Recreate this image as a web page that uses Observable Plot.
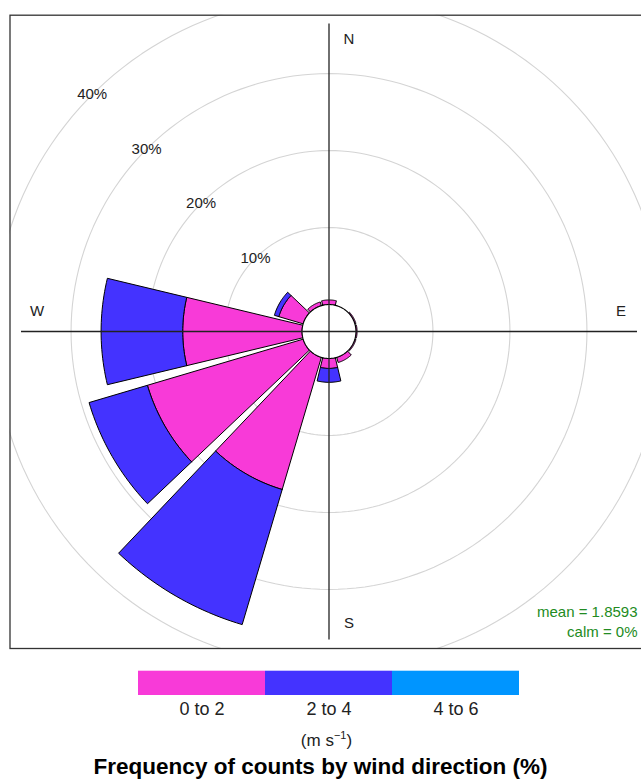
<!DOCTYPE html>
<html>
<head>
<meta charset="utf-8">
<script src="https://cdn.jsdelivr.net/npm/d3@7"></script>
<script src="https://cdn.jsdelivr.net/npm/@observablehq/plot@0.6"></script>
<style>
  html, body { margin: 0; padding: 0; background: #fff; overflow: hidden; width: 641px; }
  body { font-family: "Liberation Sans", Arial, Helvetica, sans-serif; }
  #chart svg, #legend svg { max-width: none !important; display: block; }
  #units { width: 641px; text-align: center; font-size: 17px; line-height: 20px; margin-top: 3px; position: relative; left: 6px; color: #222; }
  #units sup { font-size: 11px; }
  #title { width: 641px; text-align: center; font-size: 22.5px; font-weight: bold; line-height: 26px; margin-top: 3px; color: #000; }
</style>
</head>
<body>
<div id="chart"></div>
<div id="legend"></div>
<div id="units">(m s<sup>−1</sup>)</div>
<div id="title">Frequency of counts by wind direction (%)</div>
<script>
// ---- data ----
const directions = [0, 30, 60, 90, 120, 150, 180, 210, 240, 270, 300, 330];
const speedBins = ["0 to 2", "2 to 4", "4 to 6"];
const freq0to2 = [0.6, 0, 0.15, 0.15, 0.15, 0.7, 1.3, 17.9, 21.1, 15.5, 3.3, 0.5];
const freq2to4 = [0, 0, 0, 0, 0, 0, 1.8, 18.3, 7.9, 10.6, 0.6, 0];
const freq4to6 = [0, 0, 0, 0, 0, 0, 0, 0, 0, 0, 0, 0];
const binColors = ["#F83AD8", "#4433FF", "#0095FF"];
const rings = [10, 20, 30, 40];
const ringLabels = ["10%", "20%", "30%", "40%"];
const compassLabels = ["N", "E", "S", "W"];
const compassAngles = [0, 90, 180, 270];
const statLines = ["mean = 1.8593", "calm = 0%"];

// ---- geometry helpers ----
const freqs = [freq0to2, freq2to4, freq4to6];
const off = 3.5;        // calm circle radius in % units
const half = 13.5;      // half width of each sector (degrees)
const axisMax = 40;
const rad = d => d * Math.PI / 180;
const pt = (r, a) => ({x: r * Math.sin(rad(a)), y: r * Math.cos(rad(a))});

const sectors = [];
directions.forEach((dir, i) => {
  let cum = 0;
  speedBins.forEach((bin, j) => {
    const v = freqs[j][i];
    if (!(v > 0)) return;
    const r0 = off + cum, r1 = off + cum + v;
    cum += v;
    const id = dir + "|" + bin;
    const pts = [];
    for (let k = 0; k <= 24; k++) { const a = dir - half + 2 * half * k / 24; pts.push({...pt(r0, a), id, bin}); }
    for (let k = 24; k >= 0; k--) { const a = dir - half + 2 * half * k / 24; pts.push({...pt(r1, a), id, bin}); }
    pts.push({...pts[0]});
    sectors.push(...pts);
  });
});

const ringPts = [];
rings.forEach(p => {
  for (let a = 0; a <= 360; a += 2) ringPts.push({...pt(off + p, a), ring: p});
});
const calmPts = [];
for (let a = 0; a <= 360; a += 2) calmPts.push(pt(off, a));

const ringText = rings.map((p, i) => ({...pt(off + p, 315), label: ringLabels[i]}));
const compassText = compassAngles.map((a, i) => {
  const main = pt(axisMax * 0.948, a);
  const perp = pt(axisMax * 0.065, a + 90);
  const side = (a === 0 || a === 180) ? {x: Math.abs(perp.x), y: 0} : {x: 0, y: Math.abs(perp.y)};
  return {x: main.x + side.x, y: main.y + side.y, label: compassLabels[i]};
});
const axisLines = [
  {x1: -axisMax, y1: 0, x2: axisMax, y2: 0},
  {x1: 0, y1: -axisMax, x2: 0, y2: axisMax}
];

const font = '"Liberation Sans", Arial, Helvetica, sans-serif';

const chart = Plot.plot({
  width: 650,
  height: 660,
  marginLeft: 9.5,
  marginRight: 2.5,
  marginTop: 14.7,
  marginBottom: 12,
  x: {domain: [-41.43, 41.43], axis: null},
  y: {domain: [-41.17, 41.08], axis: null},
  color: {domain: speedBins, range: binColors},
  style: {fontFamily: font, fontSize: "15px", background: "white", overflow: "visible", maxWidth: "none"},
  marks: [
    Plot.line(ringPts, {x: "x", y: "y", z: "ring", stroke: "#d4d4d4", strokeWidth: 1.1, clip: true}),
    Plot.line(sectors, {x: "x", y: "y", z: "id", fill: "bin", stroke: "black", strokeWidth: 1, strokeLinejoin: "round"}),
    Plot.line(calmPts, {x: "x", y: "y", fill: "white", stroke: "black", strokeWidth: 1.1}),
    Plot.link(axisLines, {x1: "x1", y1: "y1", x2: "x2", y2: "y2", stroke: "#222", strokeWidth: 1.3}),
    Plot.text(ringText, {x: "x", y: "y", text: "label", fill: "#222", fontSize: 15}),
    Plot.text(compassText, {x: "x", y: "y", text: "label", fill: "#222", fontSize: 15}),
    Plot.text([statLines[0]], {text: d => d, frameAnchor: "bottom-right", dx: -10.5, dy: -36.3, lineAnchor: "middle", textAnchor: "end", fill: "forestgreen", fontSize: 15}),
    Plot.text([statLines[1]], {text: d => d, frameAnchor: "bottom-right", dx: -10.5, dy: -16.3, lineAnchor: "middle", textAnchor: "end", fill: "forestgreen", fontSize: 15}),
    Plot.frame({stroke: "#333", strokeWidth: 1.3})
  ]
});
document.getElementById("chart").appendChild(chart);

const legend = Plot.plot({
  width: 641,
  height: 62,
  marginTop: 10.7,
  marginBottom: 27,
  marginLeft: 137.3,
  marginRight: 641 - 519.3,
  x: {domain: speedBins, padding: 0, tickSize: 0, tickPadding: 7, label: null},
  y: {axis: null},
  color: {domain: speedBins, range: binColors},
  style: {fontFamily: font, fontSize: "18px", color: "#222", maxWidth: "none"},
  marks: [
    Plot.cell(speedBins, {x: d => d, fill: d => d, inset: 0})
  ]
});
document.getElementById("legend").appendChild(legend);
</script>
</body>
</html>
